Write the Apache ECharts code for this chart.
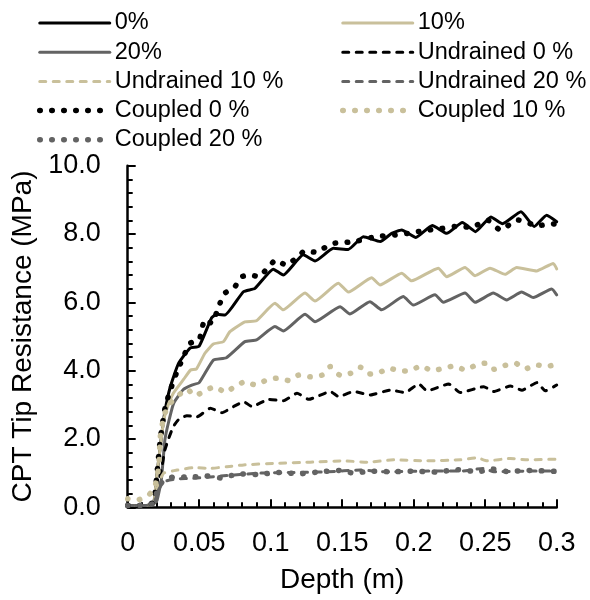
<!DOCTYPE html>
<html>
<head>
<meta charset="utf-8">
<script src="https://cdn.jsdelivr.net/npm/echarts@6/dist/echarts.min.js"></script>
<style>
  html, body { margin: 0; padding: 0; background: #fff; }
  #chart { width: 590px; height: 600px; }
</style>
</head>
<body>
<div id="chart"></div>
<script>
// CPT tip resistance (MPa) against penetration depth (m), pairs of [depth, resistance]
const drained0 = [[0,0.05],[0.012,0.05],[0.018,0.1],[0.020,0.8],[0.022,1.5],[0.024,2.2],[0.026,2.8],[0.0296,3.5],[0.0354,4.2],[0.0436,4.66],[0.0500,4.72],[0.0587,5.55],[0.0622,5.65],[0.0680,5.63],[0.0809,6.31],[0.0890,6.41],[0.1018,6.97],[0.1088,6.80],[0.1228,7.39],[0.1310,7.21],[0.1438,7.58],[0.1543,7.55],[0.1648,7.92],[0.1766,7.78],[0.1846,8.02],[0.1916,8.12],[0.2015,7.90],[0.2130,8.25],[0.2231,8.02],[0.2340,8.34],[0.2432,8.07],[0.2540,8.50],[0.2621,8.30],[0.2750,8.65],[0.2843,8.22],[0.2930,8.55],[0.3000,8.36]];
const drained10 = [[0,0.05],[0.012,0.05],[0.018,0.1],[0.020,0.8],[0.022,1.5],[0.025,2.5],[0.0275,2.9],[0.0319,3.34],[0.0392,3.75],[0.0440,4.02],[0.0480,4.05],[0.0540,4.51],[0.0599,4.78],[0.0670,4.85],[0.0715,5.14],[0.0820,5.43],[0.0900,5.46],[0.1030,5.97],[0.1088,5.78],[0.1240,6.27],[0.1310,6.04],[0.1473,6.56],[0.1543,6.30],[0.1706,6.72],[0.1764,6.51],[0.1916,6.85],[0.1986,6.63],[0.2172,7.00],[0.2231,6.75],[0.2359,7.02],[0.2429,6.78],[0.2534,7.00],[0.2639,6.82],[0.2720,7.02],[0.2860,6.92],[0.2976,7.14],[0.3000,6.98]];
const drained20 = [[0,0.05],[0.012,0.05],[0.018,0.1],[0.0205,0.2],[0.0235,0.8],[0.026,1.97],[0.0284,2.46],[0.0322,3.05],[0.0389,3.45],[0.0448,3.58],[0.0500,3.65],[0.0599,4.31],[0.0690,4.38],[0.0820,4.85],[0.0900,4.90],[0.1030,5.29],[0.1088,5.16],[0.1240,5.65],[0.1310,5.43],[0.1485,5.87],[0.1554,5.66],[0.1694,6.02],[0.1776,5.78],[0.1927,6.17],[0.1997,5.92],[0.2149,6.22],[0.2207,6.00],[0.2359,6.27],[0.2429,6.00],[0.2557,6.27],[0.2650,6.07],[0.2755,6.30],[0.2836,6.14],[0.2965,6.39],[0.3000,6.22]];
const undrained0 = [[0,0.05],[0.012,0.05],[0.018,0.1],[0.021,0.6],[0.024,1.2],[0.026,1.68],[0.0287,2.02],[0.0319,2.36],[0.0354,2.56],[0.0413,2.68],[0.0485,2.65],[0.0578,2.90],[0.0659,2.77],[0.0741,2.95],[0.0811,3.09],[0.0869,2.95],[0.0986,3.16],[0.1090,3.12],[0.1184,3.34],[0.1266,3.16],[0.1417,3.39],[0.1475,3.24],[0.1580,3.39],[0.1697,3.29],[0.1837,3.43],[0.1941,3.36],[0.2035,3.61],[0.2093,3.41],[0.2245,3.61],[0.2326,3.36],[0.2490,3.53],[0.2559,3.39],[0.2676,3.55],[0.2757,3.43],[0.2862,3.65],[0.2920,3.41],[0.3000,3.58]];
const undrained10 = [[0,0.05],[0.012,0.05],[0.018,0.1],[0.0215,0.7],[0.0252,1.0],[0.0345,1.09],[0.0462,1.16],[0.0578,1.14],[0.0694,1.19],[0.0811,1.24],[0.1044,1.29],[0.1277,1.32],[0.1510,1.36],[0.1673,1.32],[0.1860,1.39],[0.2093,1.36],[0.2326,1.39],[0.2443,1.45],[0.2513,1.36],[0.2676,1.43],[0.2793,1.39],[0.3000,1.41]];
const undrained20 = [[0,0.05],[0.012,0.05],[0.018,0.1],[0.0215,0.5],[0.0252,0.75],[0.0345,0.83],[0.0462,0.85],[0.0694,0.93],[0.0927,1.0],[0.1160,1.02],[0.1394,1.04],[0.1627,1.09],[0.1800,1.04],[0.2100,1.06],[0.2330,1.06],[0.2490,1.14],[0.2560,1.04],[0.2790,1.06],[0.3000,1.06]];
const coupled0 = [[0,0.05],[0.012,0.05],[0.018,0.15],[0.0205,1.0],[0.0228,2.0],[0.0263,2.95],[0.0298,3.43],[0.0340,3.92],[0.0385,4.36],[0.0436,4.80],[0.0500,4.90],[0.0517,5.19],[0.0540,5.50],[0.0587,5.39],[0.0645,5.97],[0.0680,6.27],[0.0750,6.46],[0.0797,6.75],[0.0855,6.80],[0.0920,6.75],[0.0976,7.00],[0.1037,7.24],[0.1107,7.09],[0.1177,7.29],[0.1240,7.51],[0.1305,7.47],[0.1368,7.58],[0.1445,7.73],[0.1520,7.75],[0.1610,7.80],[0.1730,7.92],[0.1870,7.97],[0.1960,8.02],[0.2070,8.10],[0.2180,8.15],[0.2290,8.22],[0.2400,8.20],[0.2520,8.40],[0.2604,8.12],[0.2731,8.41],[0.2860,8.25],[0.2976,8.29],[0.3000,8.30]];
const coupled10 = [[0,0.25],[0.006,0.2],[0.0147,0.36],[0.0190,0.6],[0.0217,1.2],[0.0228,2.07],[0.0252,2.65],[0.0287,3.0],[0.0345,3.24],[0.0415,3.46],[0.0473,3.26],[0.0543,3.43],[0.0613,3.53],[0.0683,3.36],[0.0753,3.55],[0.0822,3.68],[0.0892,3.58],[0.0974,3.73],[0.1044,3.78],[0.1126,3.71],[0.1196,3.87],[0.1277,3.82],[0.1359,3.87],[0.1417,4.12],[0.1483,3.87],[0.1557,3.92],[0.1627,4.10],[0.1685,3.90],[0.1755,3.94],[0.1832,4.07],[0.1906,3.99],[0.1976,4.00],[0.2051,4.14],[0.2128,4.00],[0.2210,4.07],[0.2284,4.14],[0.2361,4.02],[0.2438,4.17],[0.2501,4.22],[0.2559,4.04],[0.2636,4.15],[0.2711,4.22],[0.2780,4.05],[0.2857,4.17],[0.2932,4.12],[0.3000,4.20]];
const coupled20 = [[0,0.05],[0.012,0.05],[0.018,0.12],[0.0215,0.6],[0.0252,0.78],[0.0330,0.90],[0.0420,0.88],[0.0550,0.92],[0.0650,0.86],[0.0780,0.98],[0.0900,0.96],[0.1050,1.02],[0.1200,0.98],[0.1350,1.04],[0.1480,1.08],[0.1580,1.00],[0.1700,1.06],[0.1850,1.04],[0.2000,1.06],[0.2150,1.03],[0.2300,1.10],[0.2450,1.04],[0.2550,1.12],[0.2650,1.05],[0.2800,1.08],[0.3000,1.05]];

// legend columns (left / right)
const legendLeft = ['0%', '20%', 'Undrained 10 %', 'Coupled 0 %', 'Coupled 20 %'];
const legendRight = ['10%', 'Undrained 0 %', 'Undrained 20 %', 'Coupled 10 %'];

const BLACK = '#000000';
const TAN = '#c9c09b';
const GREY = '#636363';
const FONT = 'Liberation Sans, Arial, sans-serif';

const SOLID = { width: 3, type: 'solid' };
const DASH = { width: 3, type: [6, 7.5] };
const DOT = { width: 5.5, type: [0.5, 11.5] };

function makeSeries(name, data, color, style) {
  return { name, type: 'line', data, symbol: 'none', showSymbol: false, smooth: 0.15,
    lineStyle: { color, width: style.width, type: style.type, cap: 'round', join: 'round' },
    itemStyle: { color } };
}

const seriesList = [
  makeSeries('0%', drained0, BLACK, SOLID),
  makeSeries('10%', drained10, TAN, SOLID),
  makeSeries('20%', drained20, GREY, SOLID),
  makeSeries('Undrained 0 %', undrained0, BLACK, DASH),
  makeSeries('Undrained 10 %', undrained10, TAN, DASH),
  makeSeries('Undrained 20 %', undrained20, GREY, DASH),
  makeSeries('Coupled 0 %', coupled0, BLACK, DOT),
  makeSeries('Coupled 10 %', coupled10, TAN, DOT),
  makeSeries('Coupled 20 %', coupled20, GREY, DOT)
];

// legend entries carry the same stroke as their series; the marker dot is hidden
function legendItems(names) {
  return names.map(n => {
    const s = seriesList.find(x => x.name === n);
    return { name: n, lineStyle: Object.assign({}, s.lineStyle),
      itemStyle: { color: 'rgba(0,0,0,0)', borderWidth: 0, opacity: 0 } };
  });
}

const legendBase = {
  orient: 'vertical', top: 11, padding: 0, itemWidth: 70, itemHeight: 10, itemGap: 5.2,
  textStyle: { fontFamily: FONT, fontSize: 23.5, color: '#000', lineHeight: 24 },
  itemStyle: { color: 'rgba(0,0,0,0)', borderWidth: 0, opacity: 0 },
  lineStyle: { width: 'inherit', type: 'inherit', cap: 'inherit' },
  selectedMode: false
};

const chart = echarts.init(document.getElementById('chart'), null, { renderer: 'canvas' });
chart.setOption({
  animation: false,
  backgroundColor: '#fff',
  legend: [
    Object.assign({}, legendBase, { left: 37, data: legendItems(legendLeft) }),
    Object.assign({}, legendBase, { left: 340, data: legendItems(legendRight) })
  ],
  grid: { left: 127.7, right: 33.3, top: 165.7, bottom: 92.7, containLabel: false },
  xAxis: {
    type: 'value', min: 0, max: 0.3, interval: 0.05,
    name: 'Depth (m)', nameLocation: 'middle', nameGap: 59,
    nameTextStyle: { fontFamily: FONT, fontSize: 28, color: '#000' },
    axisLine: { lineStyle: { color: '#000', width: 2.5 } },
    axisTick: { inside: true, length: 8, lineStyle: { color: '#000', width: 2 } },
    minorTick: { show: true, splitNumber: 5, length: 5, lineStyle: { color: '#000', width: 2 } },
    splitLine: { show: false },
    axisLabel: { fontFamily: FONT, fontSize: 27, color: '#000', margin: 23,
      formatter: v => String(+v.toFixed(2)) }
  },
  yAxis: {
    type: 'value', min: 0, max: 10, interval: 2,
    name: 'CPT Tip Resistance (MPa)', nameLocation: 'middle', nameGap: 88,
    nameTextStyle: { fontFamily: FONT, fontSize: 28, color: '#000' },
    axisLine: { show: true, lineStyle: { color: '#000', width: 2.5 } },
    axisTick: { show: true, inside: true, length: 8, lineStyle: { color: '#000', width: 2 } },
    minorTick: { show: true, splitNumber: 5, length: 5, lineStyle: { color: '#000', width: 2 } },
    splitLine: { show: false },
    axisLabel: { fontFamily: FONT, fontSize: 27, color: '#000', margin: 27,
      formatter: v => v.toFixed(1) }
  },
  series: seriesList
});
</script>
</body>
</html>
